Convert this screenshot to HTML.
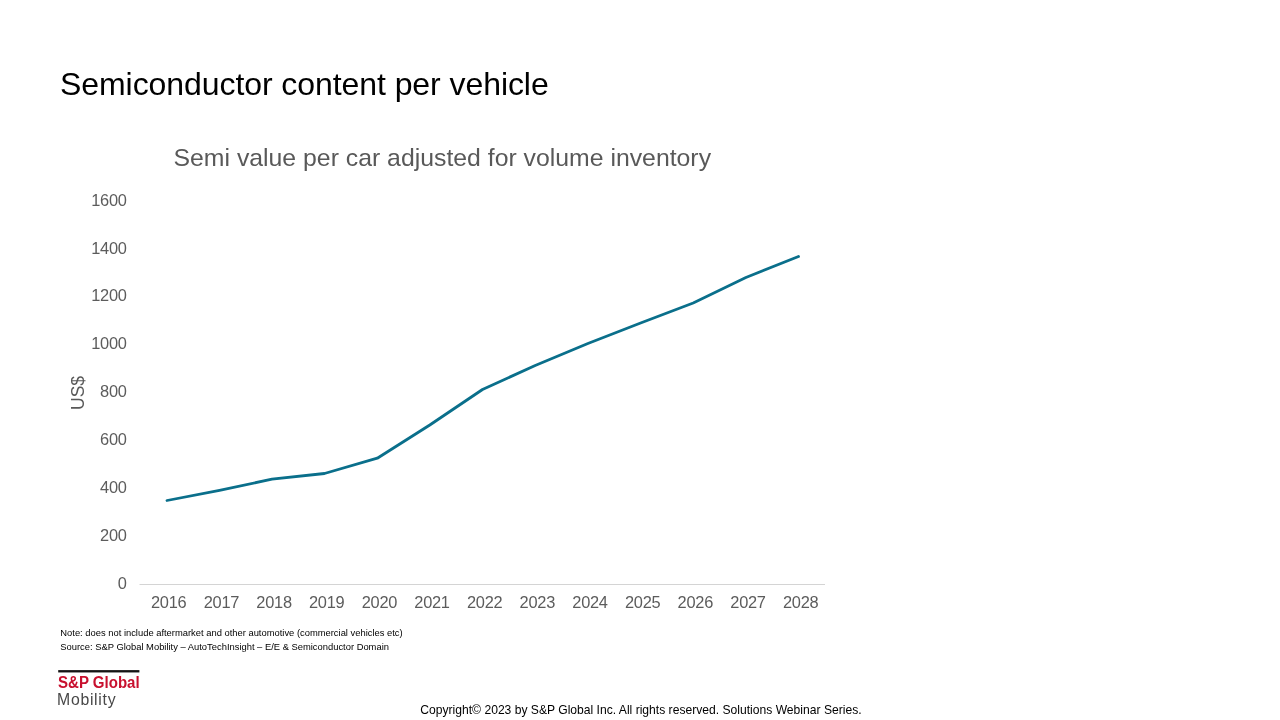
<!DOCTYPE html>
<html lang="en">
<head>
<meta charset="utf-8">
<title>Semiconductor content per vehicle</title>
<style>
html,body{margin:0;padding:0;background:#fff;}
body{width:1280px;height:720px;position:relative;overflow:hidden;font-family:"Liberation Sans",sans-serif;color:#000;}
.abs{position:absolute;white-space:nowrap;line-height:1;}
#title{left:60px;top:68.4px;font-size:32px;color:#000;letter-spacing:-0.07px;}
#ctitle{left:173.5px;top:146px;font-size:24.8px;color:#595959;}
.yl{font-size:16.4px;letter-spacing:-0.25px;color:#5c5c5c;text-align:right;width:60px;left:66.7px;}
.xl{font-size:16.4px;letter-spacing:-0.25px;color:#5c5c5c;text-align:center;width:60px;top:594px;}
#usd{font-size:17.5px;color:#595959;transform:rotate(-90deg);transform-origin:left top;left:69.8px;top:409.7px;}
#note1,#note2{font-size:9.4px;left:60.3px;color:#000;}
#note1{top:628px;}
#note2{top:642px;}
#copy{font-size:12.12px;left:420.3px;top:704px;color:#000;}
#logo-sp{left:58px;top:674px;font-size:15.8px;font-weight:bold;color:#c8102e;transform:translateY(0.6px) scaleX(0.952);transform-origin:left top;}
#logo-mob{left:57px;top:691.6px;font-size:15.8px;color:#484848;letter-spacing:0.72px;}
svg{position:absolute;left:0;top:0;}
</style>
</head>
<body>
<div class="abs" id="title">Semiconductor content per vehicle</div>
<div class="abs" id="ctitle">Semi value per car adjusted for volume inventory</div>

<svg width="1280" height="720" viewBox="0 0 1280 720">
  <line x1="139.5" y1="584.5" x2="825" y2="584.5" stroke="#d4d4d4" stroke-width="1"/>
  <polyline fill="none" stroke="#0a6f8b" stroke-width="2.8" stroke-linejoin="round" stroke-linecap="round"
    points="167,500.5 219.5,490.3 272,479.2 324.5,473.5 377.3,458.2 429.8,425 482.5,389.5 535.2,365.5 587.9,343.5 640.6,323 693.2,303 745.9,277.5 798.5,256.5"/>
  <rect x="58.2" y="670.1" width="81.2" height="2.35" fill="#141414"/>
</svg>

<div class="abs yl" style="top:192px">1600</div>
<div class="abs yl" style="top:240px">1400</div>
<div class="abs yl" style="top:287.4px">1200</div>
<div class="abs yl" style="top:335.4px">1000</div>
<div class="abs yl" style="top:383px">800</div>
<div class="abs yl" style="top:431px">600</div>
<div class="abs yl" style="top:479px">400</div>
<div class="abs yl" style="top:527px">200</div>
<div class="abs yl" style="top:575px">0</div>

<div class="abs xl" style="left:138.7px">2016</div>
<div class="abs xl" style="left:191.4px">2017</div>
<div class="abs xl" style="left:244.1px">2018</div>
<div class="abs xl" style="left:296.7px">2019</div>
<div class="abs xl" style="left:349.4px">2020</div>
<div class="abs xl" style="left:402px">2021</div>
<div class="abs xl" style="left:454.7px">2022</div>
<div class="abs xl" style="left:507.3px">2023</div>
<div class="abs xl" style="left:560px">2024</div>
<div class="abs xl" style="left:612.7px">2025</div>
<div class="abs xl" style="left:665.3px">2026</div>
<div class="abs xl" style="left:718px">2027</div>
<div class="abs xl" style="left:770.7px">2028</div>

<div class="abs" id="usd">US$</div>

<div class="abs" id="note1">Note: does not include aftermarket and other automotive (commercial vehicles etc)</div>
<div class="abs" id="note2">Source: S&amp;P Global Mobility – AutoTechInsight – E/E &amp; Semiconductor Domain</div>

<div class="abs" id="logo-sp">S&amp;P Global</div>
<div class="abs" id="logo-mob">Mobility</div>

<div class="abs" id="copy">Copyright© 2023 by S&amp;P Global Inc. All rights reserved. Solutions Webinar Series.</div>
</body>
</html>
